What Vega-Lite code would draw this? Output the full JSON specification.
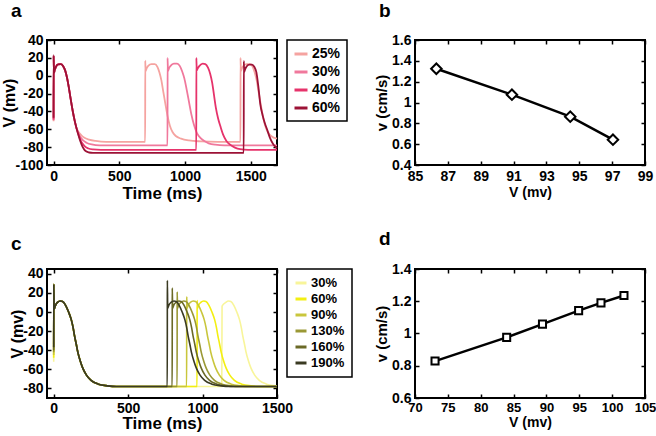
{
 "$schema": "https://vega.github.io/schema/vega-lite/v6.json",
 "padding": {"left": 0, "top": 1, "right": 0, "bottom": 0},
 "config": {
  "font": "Liberation Sans",
  "view": {"stroke": "black", "strokeWidth": 2},
  "axis": {"grid": false, "domain": false, "tickColor": "black", "tickSize": -4, "tickWidth": 1.5, "labelFont": "Liberation Sans", "labelFontWeight": "bold", "labelFontSize": 14, "labelColor": "black", "labelPadding": 8, "titleFont": "Liberation Sans", "titleFontWeight": "bold", "titleColor": "black", "labelFlush": false, "labelOverlap": false},
  "legend": {"strokeColor": "black", "strokeWidth": 1.5, "padding": 6, "labelFont": "Liberation Sans", "labelFontWeight": "bold", "labelColor": "black", "symbolType": "stroke", "symbolStrokeWidth": 3, "labelOffset": 3, "offset": 6, "orient": "right"},
  "title": {"font": "Liberation Sans", "fontSize": 19, "fontWeight": "bold", "color": "black", "anchor": "start", "frame": "group", "baseline": "alphabetic"}
 },
 "datasets": {
  "a": [
   {"s":"25%","t":0,"v":-51},{"s":"25%","t":0.5,"v":22},{"s":"25%","t":3,"v":3},{"s":"25%","t":8,"v":6},{"s":"25%","t":18,"v":10},{"s":"25%","t":35,"v":12.8},{"s":"25%","t":55,"v":13},{"s":"25%","t":72,"v":11},{"s":"25%","t":88,"v":6},{"s":"25%","t":102,"v":-2},{"s":"25%","t":116,"v":-13},{"s":"25%","t":130,"v":-26},{"s":"25%","t":145,"v":-39},{"s":"25%","t":160,"v":-50},{"s":"25%","t":175,"v":-59},{"s":"25%","t":190,"v":-63},{"s":"25%","t":210,"v":-66.5},{"s":"25%","t":235,"v":-69.5},{"s":"25%","t":270,"v":-71.5},{"s":"25%","t":320,"v":-73},{"s":"25%","t":400,"v":-74},{"s":"25%","t":697,"v":-74},{"s":"25%","t":697.5,"v":17},{"s":"25%","t":700,"v":5},{"s":"25%","t":707,"v":8},{"s":"25%","t":720,"v":11},{"s":"25%","t":745,"v":13},{"s":"25%","t":770,"v":13},{"s":"25%","t":790,"v":10},{"s":"25%","t":805,"v":4},{"s":"25%","t":820,"v":-5},{"s":"25%","t":835,"v":-18},{"s":"25%","t":850,"v":-31},{"s":"25%","t":867,"v":-45},{"s":"25%","t":885,"v":-56},{"s":"25%","t":905,"v":-63},{"s":"25%","t":930,"v":-67.5},{"s":"25%","t":970,"v":-70.5},{"s":"25%","t":1030,"v":-72.5},{"s":"25%","t":1120,"v":-73.5},{"s":"25%","t":1250,"v":-74},{"s":"25%","t":1422,"v":-74},{"s":"25%","t":1422.5,"v":20},{"s":"25%","t":1425,"v":5},{"s":"25%","t":1432,"v":8},{"s":"25%","t":1445,"v":11},{"s":"25%","t":1470,"v":13},{"s":"25%","t":1495,"v":13},{"s":"25%","t":1515,"v":10},{"s":"25%","t":1530,"v":4},{"s":"25%","t":1545,"v":-5},{"s":"25%","t":1560,"v":-18},{"s":"25%","t":1575,"v":-31},{"s":"25%","t":1592,"v":-45},{"s":"25%","t":1610,"v":-56},{"s":"25%","t":1630,"v":-63},{"s":"25%","t":1655,"v":-67.5},{"s":"25%","t":1700,"v":-70.5},
   {"s":"30%","t":0,"v":-50},{"s":"30%","t":0.5,"v":22},{"s":"30%","t":3,"v":3},{"s":"30%","t":8,"v":6},{"s":"30%","t":18,"v":10},{"s":"30%","t":35,"v":12.8},{"s":"30%","t":55,"v":13},{"s":"30%","t":72,"v":11},{"s":"30%","t":88,"v":6},{"s":"30%","t":102,"v":-2},{"s":"30%","t":116,"v":-13},{"s":"30%","t":130,"v":-26},{"s":"30%","t":145,"v":-39},{"s":"30%","t":160,"v":-50},{"s":"30%","t":175,"v":-59},{"s":"30%","t":190,"v":-64.5},{"s":"30%","t":205,"v":-69},{"s":"30%","t":225,"v":-72.5},{"s":"30%","t":250,"v":-75},{"s":"30%","t":290,"v":-77},{"s":"30%","t":350,"v":-78},{"s":"30%","t":867,"v":-78},{"s":"30%","t":867.5,"v":20},{"s":"30%","t":870,"v":5},{"s":"30%","t":877,"v":8},{"s":"30%","t":890,"v":11},{"s":"30%","t":915,"v":13.5},{"s":"30%","t":940,"v":13.5},{"s":"30%","t":960,"v":11},{"s":"30%","t":978,"v":5},{"s":"30%","t":995,"v":-3},{"s":"30%","t":1012,"v":-15},{"s":"30%","t":1030,"v":-29},{"s":"30%","t":1048,"v":-43},{"s":"30%","t":1068,"v":-55},{"s":"30%","t":1090,"v":-64},{"s":"30%","t":1119,"v":-70},{"s":"30%","t":1150,"v":-73.5},{"s":"30%","t":1180,"v":-75.7},{"s":"30%","t":1230,"v":-77.3},{"s":"30%","t":1300,"v":-78},{"s":"30%","t":1700,"v":-78},
   {"s":"40%","t":0,"v":-49},{"s":"40%","t":0.5,"v":22},{"s":"40%","t":3,"v":3},{"s":"40%","t":8,"v":6},{"s":"40%","t":18,"v":10},{"s":"40%","t":35,"v":12.8},{"s":"40%","t":55,"v":13},{"s":"40%","t":72,"v":11},{"s":"40%","t":88,"v":6},{"s":"40%","t":102,"v":-2},{"s":"40%","t":116,"v":-13},{"s":"40%","t":130,"v":-26},{"s":"40%","t":145,"v":-39},{"s":"40%","t":160,"v":-50},{"s":"40%","t":175,"v":-59},{"s":"40%","t":190,"v":-66},{"s":"40%","t":205,"v":-72},{"s":"40%","t":220,"v":-76},{"s":"40%","t":240,"v":-79.5},{"s":"40%","t":265,"v":-81.5},{"s":"40%","t":300,"v":-82.5},{"s":"40%","t":360,"v":-83},{"s":"40%","t":1086,"v":-83},{"s":"40%","t":1086.5,"v":20},{"s":"40%","t":1089,"v":6},{"s":"40%","t":1096,"v":8},{"s":"40%","t":1110,"v":11},{"s":"40%","t":1135,"v":13.5},{"s":"40%","t":1155,"v":13},{"s":"40%","t":1175,"v":9},{"s":"40%","t":1192,"v":2},{"s":"40%","t":1207,"v":-8},{"s":"40%","t":1220,"v":-21},{"s":"40%","t":1235,"v":-36},{"s":"40%","t":1252,"v":-48},{"s":"40%","t":1270,"v":-57},{"s":"40%","t":1290,"v":-66},{"s":"40%","t":1315,"v":-73},{"s":"40%","t":1346,"v":-77.5},{"s":"40%","t":1380,"v":-80.5},{"s":"40%","t":1420,"v":-82.3},{"s":"40%","t":1480,"v":-83},{"s":"40%","t":1700,"v":-83},
   {"s":"60%","t":0,"v":-47},{"s":"60%","t":0.5,"v":23},{"s":"60%","t":3,"v":3},{"s":"60%","t":8,"v":6},{"s":"60%","t":18,"v":10},{"s":"60%","t":35,"v":12.8},{"s":"60%","t":55,"v":13},{"s":"60%","t":72,"v":11},{"s":"60%","t":88,"v":6},{"s":"60%","t":102,"v":-2},{"s":"60%","t":116,"v":-13},{"s":"60%","t":130,"v":-26},{"s":"60%","t":145,"v":-39},{"s":"60%","t":160,"v":-50},{"s":"60%","t":175,"v":-59},{"s":"60%","t":190,"v":-67},{"s":"60%","t":205,"v":-74},{"s":"60%","t":220,"v":-79.5},{"s":"60%","t":235,"v":-83},{"s":"60%","t":250,"v":-85},{"s":"60%","t":270,"v":-86},{"s":"60%","t":300,"v":-86.5},{"s":"60%","t":1447,"v":-86.5},{"s":"60%","t":1447.5,"v":16.5},{"s":"60%","t":1450,"v":4},{"s":"60%","t":1457,"v":7},{"s":"60%","t":1470,"v":10.5},{"s":"60%","t":1490,"v":12.5},{"s":"60%","t":1510,"v":12.5},{"s":"60%","t":1527,"v":10},{"s":"60%","t":1543,"v":4},{"s":"60%","t":1558,"v":-12},{"s":"60%","t":1573,"v":-32},{"s":"60%","t":1590,"v":-44},{"s":"60%","t":1607,"v":-53},{"s":"60%","t":1624,"v":-60},{"s":"60%","t":1645,"v":-69},{"s":"60%","t":1668,"v":-76},{"s":"60%","t":1690,"v":-80},{"s":"60%","t":1700,"v":-81.5}
  ],
  "b": [
   {"x":86.3,"y":1.324},{"x":90.9,"y":1.075},{"x":94.45,"y":0.864},{"x":97.05,"y":0.643}
  ],
  "c": [
   {"s":"30%","t":0,"v":-52},{"s":"30%","t":0.5,"v":29},{"s":"30%","t":3,"v":3},{"s":"30%","t":10,"v":6},{"s":"30%","t":25,"v":10},{"s":"30%","t":45,"v":11.5},{"s":"30%","t":60,"v":11},{"s":"30%","t":80,"v":7},{"s":"30%","t":100,"v":0},{"s":"30%","t":118,"v":-8},{"s":"30%","t":130,"v":-16},{"s":"30%","t":140,"v":-25},{"s":"30%","t":152,"v":-34},{"s":"30%","t":162,"v":-42},{"s":"30%","t":180,"v":-52},{"s":"30%","t":196,"v":-59},{"s":"30%","t":220,"v":-66},{"s":"30%","t":251,"v":-71.5},{"s":"30%","t":300,"v":-75.5},{"s":"30%","t":362,"v":-77.3},{"s":"30%","t":420,"v":-78},
   {"s":"30%","t":1129,"v":-78},{"s":"30%","t":1131,"v":6},{"s":"30%","t":1140,"v":8},{"s":"30%","t":1155,"v":10},{"s":"30%","t":1175,"v":11.5},{"s":"30%","t":1190,"v":11},{"s":"30%","t":1210,"v":7},{"s":"30%","t":1230,"v":0},{"s":"30%","t":1248,"v":-8},{"s":"30%","t":1260,"v":-16},{"s":"30%","t":1270,"v":-25},{"s":"30%","t":1282,"v":-34},{"s":"30%","t":1292,"v":-42},{"s":"30%","t":1310,"v":-52},{"s":"30%","t":1326,"v":-59},{"s":"30%","t":1350,"v":-66},{"s":"30%","t":1381,"v":-71.5},{"s":"30%","t":1430,"v":-75.5},{"s":"30%","t":1492,"v":-77.3},{"s":"30%","t":1500,"v":-77.4},
   {"s":"60%","t":0,"v":-48},{"s":"60%","t":0.5,"v":29},{"s":"60%","t":3,"v":3},{"s":"60%","t":10,"v":6},{"s":"60%","t":25,"v":10},{"s":"60%","t":45,"v":11.5},{"s":"60%","t":60,"v":11},{"s":"60%","t":80,"v":7},{"s":"60%","t":100,"v":0},{"s":"60%","t":118,"v":-8},{"s":"60%","t":130,"v":-16},{"s":"60%","t":140,"v":-25},{"s":"60%","t":152,"v":-34},{"s":"60%","t":162,"v":-42},{"s":"60%","t":180,"v":-52},{"s":"60%","t":196,"v":-59},{"s":"60%","t":220,"v":-66},{"s":"60%","t":251,"v":-71.5},{"s":"60%","t":300,"v":-75.5},{"s":"60%","t":362,"v":-77.3},{"s":"60%","t":420,"v":-78},
   {"s":"60%","t":963,"v":-78},{"s":"60%","t":963.5,"v":12},{"s":"60%","t":966,"v":4},{"s":"60%","t":973,"v":7},{"s":"60%","t":988,"v":10},{"s":"60%","t":1008,"v":11.5},{"s":"60%","t":1023,"v":11},{"s":"60%","t":1043,"v":7},{"s":"60%","t":1063,"v":0},{"s":"60%","t":1081,"v":-8},{"s":"60%","t":1093,"v":-16},{"s":"60%","t":1103,"v":-25},{"s":"60%","t":1115,"v":-34},{"s":"60%","t":1125,"v":-42},{"s":"60%","t":1143,"v":-52},{"s":"60%","t":1159,"v":-59},{"s":"60%","t":1183,"v":-66},{"s":"60%","t":1214,"v":-71.5},{"s":"60%","t":1263,"v":-75.5},{"s":"60%","t":1325,"v":-77.3},{"s":"60%","t":1383,"v":-78},{"s":"60%","t":1500,"v":-78},
   {"s":"90%","t":0,"v":-45},{"s":"90%","t":0.5,"v":29},{"s":"90%","t":3,"v":3},{"s":"90%","t":10,"v":6},{"s":"90%","t":25,"v":10},{"s":"90%","t":45,"v":11.5},{"s":"90%","t":60,"v":11},{"s":"90%","t":80,"v":7},{"s":"90%","t":100,"v":0},{"s":"90%","t":118,"v":-8},{"s":"90%","t":130,"v":-16},{"s":"90%","t":140,"v":-25},{"s":"90%","t":152,"v":-34},{"s":"90%","t":162,"v":-42},{"s":"90%","t":180,"v":-52},{"s":"90%","t":196,"v":-59},{"s":"90%","t":220,"v":-66},{"s":"90%","t":251,"v":-71.5},{"s":"90%","t":300,"v":-75.5},{"s":"90%","t":362,"v":-77.3},{"s":"90%","t":420,"v":-78},
   {"s":"90%","t":893,"v":-78},{"s":"90%","t":893.5,"v":16},{"s":"90%","t":896,"v":4},{"s":"90%","t":903,"v":7},{"s":"90%","t":918,"v":10},{"s":"90%","t":938,"v":11.5},{"s":"90%","t":953,"v":11},{"s":"90%","t":973,"v":7},{"s":"90%","t":993,"v":0},{"s":"90%","t":1011,"v":-8},{"s":"90%","t":1023,"v":-16},{"s":"90%","t":1033,"v":-25},{"s":"90%","t":1045,"v":-34},{"s":"90%","t":1055,"v":-42},{"s":"90%","t":1073,"v":-52},{"s":"90%","t":1089,"v":-59},{"s":"90%","t":1113,"v":-66},{"s":"90%","t":1144,"v":-71.5},{"s":"90%","t":1193,"v":-75.5},{"s":"90%","t":1255,"v":-77.3},{"s":"90%","t":1313,"v":-78},{"s":"90%","t":1500,"v":-78},
   {"s":"130%","t":0,"v":-42},{"s":"130%","t":0.5,"v":29},{"s":"130%","t":3,"v":3},{"s":"130%","t":10,"v":6},{"s":"130%","t":25,"v":10},{"s":"130%","t":45,"v":11.5},{"s":"130%","t":60,"v":11},{"s":"130%","t":80,"v":7},{"s":"130%","t":100,"v":0},{"s":"130%","t":118,"v":-8},{"s":"130%","t":130,"v":-16},{"s":"130%","t":140,"v":-25},{"s":"130%","t":152,"v":-34},{"s":"130%","t":162,"v":-42},{"s":"130%","t":180,"v":-52},{"s":"130%","t":196,"v":-59},{"s":"130%","t":220,"v":-66},{"s":"130%","t":251,"v":-71.5},{"s":"130%","t":300,"v":-75.5},{"s":"130%","t":362,"v":-77.3},{"s":"130%","t":420,"v":-78},
   {"s":"130%","t":829,"v":-78},{"s":"130%","t":829.5,"v":21},{"s":"130%","t":832,"v":4},{"s":"130%","t":839,"v":7},{"s":"130%","t":854,"v":10},{"s":"130%","t":874,"v":11.5},{"s":"130%","t":889,"v":11},{"s":"130%","t":909,"v":7},{"s":"130%","t":929,"v":0},{"s":"130%","t":947,"v":-8},{"s":"130%","t":959,"v":-16},{"s":"130%","t":969,"v":-25},{"s":"130%","t":981,"v":-34},{"s":"130%","t":991,"v":-42},{"s":"130%","t":1009,"v":-52},{"s":"130%","t":1025,"v":-59},{"s":"130%","t":1049,"v":-66},{"s":"130%","t":1080,"v":-71.5},{"s":"130%","t":1129,"v":-75.5},{"s":"130%","t":1191,"v":-77.3},{"s":"130%","t":1249,"v":-78},{"s":"130%","t":1500,"v":-78},
   {"s":"160%","t":0,"v":-40},{"s":"160%","t":0.5,"v":29},{"s":"160%","t":3,"v":3},{"s":"160%","t":10,"v":6},{"s":"160%","t":25,"v":10},{"s":"160%","t":45,"v":11.5},{"s":"160%","t":60,"v":11},{"s":"160%","t":80,"v":7},{"s":"160%","t":100,"v":0},{"s":"160%","t":118,"v":-8},{"s":"160%","t":130,"v":-16},{"s":"160%","t":140,"v":-25},{"s":"160%","t":152,"v":-34},{"s":"160%","t":162,"v":-42},{"s":"160%","t":180,"v":-52},{"s":"160%","t":196,"v":-59},{"s":"160%","t":220,"v":-66},{"s":"160%","t":251,"v":-71.5},{"s":"160%","t":300,"v":-75.5},{"s":"160%","t":362,"v":-77.3},{"s":"160%","t":420,"v":-78},
   {"s":"160%","t":796,"v":-78},{"s":"160%","t":796.5,"v":25},{"s":"160%","t":799,"v":4},{"s":"160%","t":806,"v":7},{"s":"160%","t":821,"v":10},{"s":"160%","t":841,"v":11.5},{"s":"160%","t":856,"v":11},{"s":"160%","t":876,"v":7},{"s":"160%","t":896,"v":0},{"s":"160%","t":914,"v":-8},{"s":"160%","t":926,"v":-16},{"s":"160%","t":936,"v":-25},{"s":"160%","t":948,"v":-34},{"s":"160%","t":958,"v":-42},{"s":"160%","t":976,"v":-52},{"s":"160%","t":992,"v":-59},{"s":"160%","t":1016,"v":-66},{"s":"160%","t":1047,"v":-71.5},{"s":"160%","t":1096,"v":-75.5},{"s":"160%","t":1158,"v":-77.3},{"s":"160%","t":1216,"v":-78},{"s":"160%","t":1500,"v":-78},
   {"s":"190%","t":0,"v":-37},{"s":"190%","t":0.5,"v":29},{"s":"190%","t":3,"v":3},{"s":"190%","t":10,"v":6},{"s":"190%","t":25,"v":10},{"s":"190%","t":45,"v":11.5},{"s":"190%","t":60,"v":11},{"s":"190%","t":80,"v":7},{"s":"190%","t":100,"v":0},{"s":"190%","t":118,"v":-8},{"s":"190%","t":130,"v":-16},{"s":"190%","t":140,"v":-25},{"s":"190%","t":152,"v":-34},{"s":"190%","t":162,"v":-42},{"s":"190%","t":180,"v":-52},{"s":"190%","t":196,"v":-59},{"s":"190%","t":220,"v":-66},{"s":"190%","t":251,"v":-71.5},{"s":"190%","t":300,"v":-75.5},{"s":"190%","t":362,"v":-77.3},{"s":"190%","t":420,"v":-78},
   {"s":"190%","t":763,"v":-78},{"s":"190%","t":763.5,"v":33},{"s":"190%","t":766,"v":4},{"s":"190%","t":773,"v":7},{"s":"190%","t":788,"v":10},{"s":"190%","t":808,"v":11.5},{"s":"190%","t":823,"v":11},{"s":"190%","t":843,"v":7},{"s":"190%","t":863,"v":0},{"s":"190%","t":881,"v":-8},{"s":"190%","t":893,"v":-16},{"s":"190%","t":903,"v":-25},{"s":"190%","t":915,"v":-34},{"s":"190%","t":925,"v":-42},{"s":"190%","t":943,"v":-52},{"s":"190%","t":959,"v":-59},{"s":"190%","t":983,"v":-66},{"s":"190%","t":1014,"v":-71.5},{"s":"190%","t":1063,"v":-75.5},{"s":"190%","t":1125,"v":-77.3},{"s":"190%","t":1183,"v":-78},{"s":"190%","t":1500,"v":-78}
  ],
  "d": [
   {"x":73.05,"y":0.829},{"x":83.95,"y":0.976},{"x":89.4,"y":1.058},{"x":94.9,"y":1.142},{"x":98.3,"y":1.19},{"x":101.8,"y":1.236}
  ]
 },
 "columns": 2,
 "bounds": "flush",
 "spacing": {"row": 104, "column": 138},
 "resolve": {"scale": {"color": "independent"}, "legend": {"color": "independent"}},
 "concat": [
  {
   "width": 230, "height": 125,
   "title": {"text": "a", "dx": -36, "offset": 12},
   "data": {"name": "a"},
   "layer": [
    {"mark": {"type": "line", "strokeWidth": 1.8, "interpolate": "monotone"},
     "encoding": {
      "x": {"field": "t", "type": "quantitative", "scale": {"domain": [-50, 1700], "nice": false, "zero": false}, "axis": {"values": [0, 500, 1000, 1500], "title": "Time (ms)", "titleFontSize": 17, "titlePadding": 2, "labelExpr": "replace(format(datum.value, '~g'), '\u2212', '-')"}},
      "y": {"field": "v", "type": "quantitative", "scale": {"domain": [-100, 40], "nice": false, "zero": false}, "axis": {"values": [-100, -80, -60, -40, -20, 0, 20, 40], "title": "V (mv)", "titleFontSize": 16, "titlePadding": -3, "labelExpr": "replace(format(datum.value, '~g'), '\u2212', '-')"}},
      "color": {"field": "s", "type": "nominal", "scale": {"domain": ["25%", "30%", "40%", "60%"], "range": ["#f5a3a0", "#f0789c", "#e6336b", "#9c1236"]}, "legend": {"title": null, "labelFontSize": 14, "symbolSize": 169, "rowPadding": 3, "padding": 6}}
     }},
    {"mark": {"type": "line", "strokeOpacity": 0},
     "encoding": {
      "x": {"field": "t", "type": "quantitative", "axis": {"orient": "top", "labels": false, "title": null, "values": [0, 500, 1000, 1500]}},
      "y": {"field": "v", "type": "quantitative", "axis": {"orient": "right", "labels": false, "title": null, "values": [-100, -80, -60, -40, -20, 0, 20, 40]}},
      "detail": {"field": "s"}
     }}
   ],
   "resolve": {"axis": {"x": "independent", "y": "independent"}}
  },
  {
   "width": 230, "height": 125,
   "title": {"text": "b", "dx": -36, "offset": 12},
   "data": {"name": "b"},
   "layer": [
    {"mark": {"type": "line", "color": "black", "strokeWidth": 2.5},
     "encoding": {
      "x": {"field": "x", "type": "quantitative", "scale": {"domain": [85, 99], "nice": false, "zero": false}, "axis": {"values": [85, 87, 89, 91, 93, 95, 97, 99], "title": "V (mv)", "titleFontSize": 14, "titlePadding": 2}},
      "y": {"field": "y", "type": "quantitative", "scale": {"domain": [0.4, 1.6], "nice": false, "zero": false}, "axis": {"values": [0.4, 0.6, 0.8, 1, 1.2, 1.4, 1.6], "title": "v (cm/s)", "titleFontSize": 15, "titlePadding": 2, "labelExpr": "format(datum.value, '~g')"}}
     }},
    {"mark": {"type": "point", "shape": "diamond", "filled": true, "fill": "white", "stroke": "black", "strokeWidth": 2, "size": 110, "opacity": 1},
     "encoding": {
      "x": {"field": "x", "type": "quantitative", "axis": null},
      "y": {"field": "y", "type": "quantitative", "axis": null}
     }},
    {"mark": {"type": "point", "opacity": 0},
     "encoding": {
      "x": {"field": "x", "type": "quantitative", "axis": {"orient": "top", "labels": false, "title": null, "values": [85, 87, 89, 91, 93, 95, 97, 99]}},
      "y": {"field": "y", "type": "quantitative", "axis": {"orient": "right", "labels": false, "title": null, "values": [0.4, 0.6, 0.8, 1, 1.2, 1.4, 1.6]}}
     }}
   ],
   "resolve": {"axis": {"x": "independent", "y": "independent"}}
  },
  {
   "width": 230, "height": 129,
   "title": {"text": "c", "dx": -36, "offset": 13},
   "data": {"name": "c"},
   "layer": [
    {"mark": {"type": "line", "strokeWidth": 1.6, "interpolate": "monotone"},
     "encoding": {
      "x": {"field": "t", "type": "quantitative", "scale": {"domain": [-45, 1500], "nice": false, "zero": false}, "axis": {"values": [0, 500, 1000, 1500], "title": "Time (ms)", "titleFontSize": 17, "titlePadding": 0, "labelPadding": 7, "labelExpr": "replace(format(datum.value, '~g'), '\u2212', '-')"}},
      "y": {"field": "v", "type": "quantitative", "scale": {"domain": [-90, 45], "nice": false, "zero": false}, "axis": {"values": [-80, -60, -40, -20, 0, 20, 40], "title": "V (mv)", "titleFontSize": 16, "titlePadding": -3, "labelExpr": "replace(format(datum.value, '~g'), '\u2212', '-')"}},
      "color": {"field": "s", "type": "nominal", "scale": {"domain": ["30%", "60%", "90%", "130%", "160%", "190%"], "range": ["#f8f59a", "#f3ef12", "#c9c63c", "#9a9835", "#6a6926", "#3a3a22"]}, "legend": {"title": null, "labelFontSize": 13, "symbolSize": 121, "rowPadding": 2, "padding": 7}}
     }},
    {"mark": {"type": "line", "strokeOpacity": 0},
     "encoding": {
      "x": {"field": "t", "type": "quantitative", "axis": {"orient": "top", "labels": false, "title": null, "values": [0, 500, 1000, 1500]}},
      "y": {"field": "v", "type": "quantitative", "axis": {"orient": "right", "labels": false, "title": null, "values": [-80, -60, -40, -20, 0, 20, 40]}},
      "detail": {"field": "s"}
     }}
   ],
   "resolve": {"axis": {"x": "independent", "y": "independent"}}
  },
  {
   "width": 230, "height": 129,
   "title": {"text": "d", "dx": -36, "offset": 13},
   "data": {"name": "d"},
   "layer": [
    {"mark": {"type": "line", "color": "black", "strokeWidth": 2.5},
     "encoding": {
      "x": {"field": "x", "type": "quantitative", "scale": {"domain": [70, 105], "nice": false, "zero": false}, "axis": {"values": [70, 75, 80, 85, 90, 95, 100, 105], "title": "V (mv)", "titleFontSize": 14, "titlePadding": 1, "labelPadding": 7, "labelFontSize": 13}},
      "y": {"field": "y", "type": "quantitative", "scale": {"domain": [0.6, 1.4], "nice": false, "zero": false}, "axis": {"values": [0.6, 0.8, 1, 1.2, 1.4], "title": "v (cm/s)", "titleFontSize": 15, "titlePadding": 2, "labelExpr": "format(datum.value, '~g')"}}
     }},
    {"mark": {"type": "point", "shape": "square", "filled": true, "fill": "white", "stroke": "black", "strokeWidth": 2, "size": 50, "opacity": 1},
     "encoding": {
      "x": {"field": "x", "type": "quantitative", "axis": null},
      "y": {"field": "y", "type": "quantitative", "axis": null}
     }},
    {"mark": {"type": "point", "opacity": 0},
     "encoding": {
      "x": {"field": "x", "type": "quantitative", "axis": {"orient": "top", "labels": false, "title": null, "values": [70, 75, 80, 85, 90, 95, 100, 105]}},
      "y": {"field": "y", "type": "quantitative", "axis": {"orient": "right", "labels": false, "title": null, "values": [0.6, 0.8, 1, 1.2, 1.4]}}
     }}
   ],
   "resolve": {"axis": {"x": "independent", "y": "independent"}}
  }
 ]
}
